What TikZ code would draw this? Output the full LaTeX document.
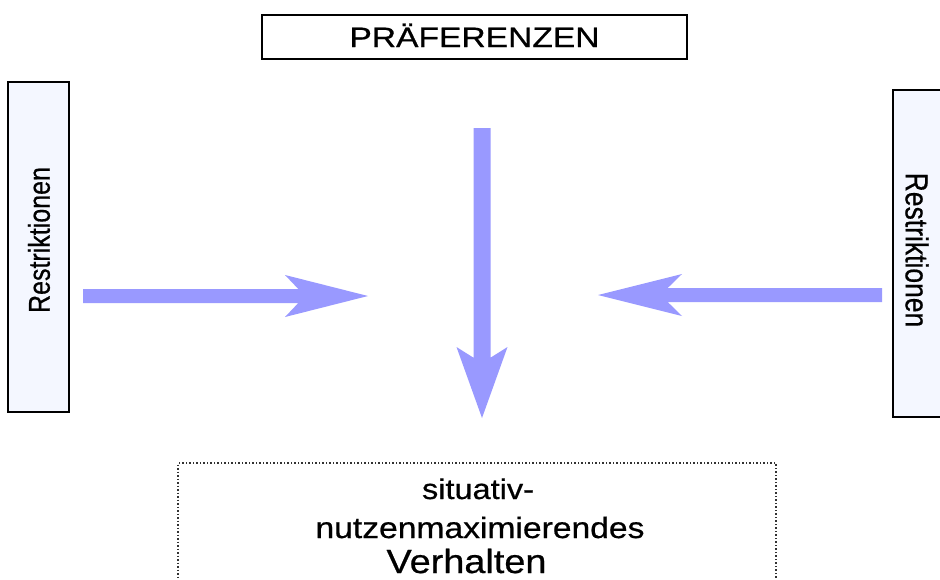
\documentclass[tikz,border=0pt]{standalone}
\usepackage{fontspec}
\setmainfont{Liberation Sans}[FakeBold=0.6]
\usetikzlibrary{calc}

\definecolor{arrowblue}{RGB}{153,153,255}
\definecolor{panelfill}{RGB}{244,247,255}
\definecolor{dotgray}{RGB}{50,50,50}

% widened lettering
\newcommand{\wide}[2][1.2]{\scalebox{#1}[1]{#2}}
\newcommand{\tall}[1]{\scalebox{1}[1.2]{#1}}

\begin{document}
\begin{tikzpicture}[x=1pt,y=-1pt,
  frame/.style={draw=black,line width=1.3pt,inner sep=0pt},
  sidepanel/.style={frame,fill=panelfill,line width=1.2pt},
  label/.style={inner sep=0pt,text=black},
  fatarrow/.style={fill=arrowblue}
]
\clip (0,0) rectangle (940,579);
\fill[white] (0,0) rectangle (940,579);

% preference box on top
\node[frame,fill=white,minimum width=425pt,minimum height=44pt] (pref) at (474.5,37) {};
\node[label,text height=20pt,text depth=0pt] (preftext) at (pref.center)
  {\fontsize{28pt}{30pt}\selectfont\wide{PRÄFERENZEN}};

% restriction panels at the sides
\node[sidepanel,minimum width=61pt,minimum height=330pt] (restL) at (38.5,247) {};
\node[label,rotate=90] (restLtext) at (39,240)
  {\fontsize{25pt}{27pt}\selectfont\tall{Restriktionen}};

\node[sidepanel,minimum width=70pt,minimum height=327pt] (restR) at (928,253.5) {};
\node[label,rotate=-90] (restRtext) at (917,250)
  {\fontsize{26.5pt}{28pt}\selectfont\tall{Restriktionen}};

% behaviour box at the bottom (runs past the lower edge)
\node[draw=dotgray,line width=1.5pt,dash pattern=on 1.5pt off 2pt,
      minimum width=598pt,minimum height=150pt,inner sep=0pt] (behav) at (477,538) {};
\node[label,anchor=base] (l1) at (478,499)
  {\fontsize{28.5pt}{30pt}\selectfont\wide[1.14]{situativ-}};
\node[label,anchor=base] (l2) at (480,538)
  {\fontsize{29.5pt}{31pt}\selectfont\wide[1.14]{nutzenmaximierendes}};
\node[label,anchor=base] (l3) at (466.5,573)
  {\fontsize{33.5pt}{35pt}\selectfont\wide[1.13]{Verhalten}};

% broad arrows pointing to the centre
\coordinate (aLs) at (83,296);
\coordinate (aLt) at (368,296);
\fill[fatarrow] ($(aLs)+(0,-7)$) -- ($(aLt)+(-69.7,-7)$) -- ($(aLt)+(-83,-21)$)
  -- (aLt) -- ($(aLt)+(-83,21)$) -- ($(aLt)+(-69.7,7)$) -- ($(aLs)+(0,7)$) -- cycle;

\coordinate (aRs) at (882,295);
\coordinate (aRt) at (598,295);
\fill[fatarrow] ($(aRs)+(0,-7)$) -- ($(aRt)+(69.7,-7)$) -- ($(aRt)+(84,-21)$)
  -- (aRt) -- ($(aRt)+(84,21)$) -- ($(aRt)+(69.7,7)$) -- ($(aRs)+(0,7)$) -- cycle;

\coordinate (aDs) at (482,128);
\coordinate (aDt) at (482,418);
\fill[fatarrow] ($(aDs)+(-8.5,0)$) -- ($(aDt)+(-8.5,-60.3)$) -- ($(aDt)+(-25.5,-71)$)
  -- (aDt) -- ($(aDt)+(25.5,-71)$) -- ($(aDt)+(8.5,-60.3)$) -- ($(aDs)+(8.5,0)$) -- cycle;
\end{tikzpicture}
\end{document}
